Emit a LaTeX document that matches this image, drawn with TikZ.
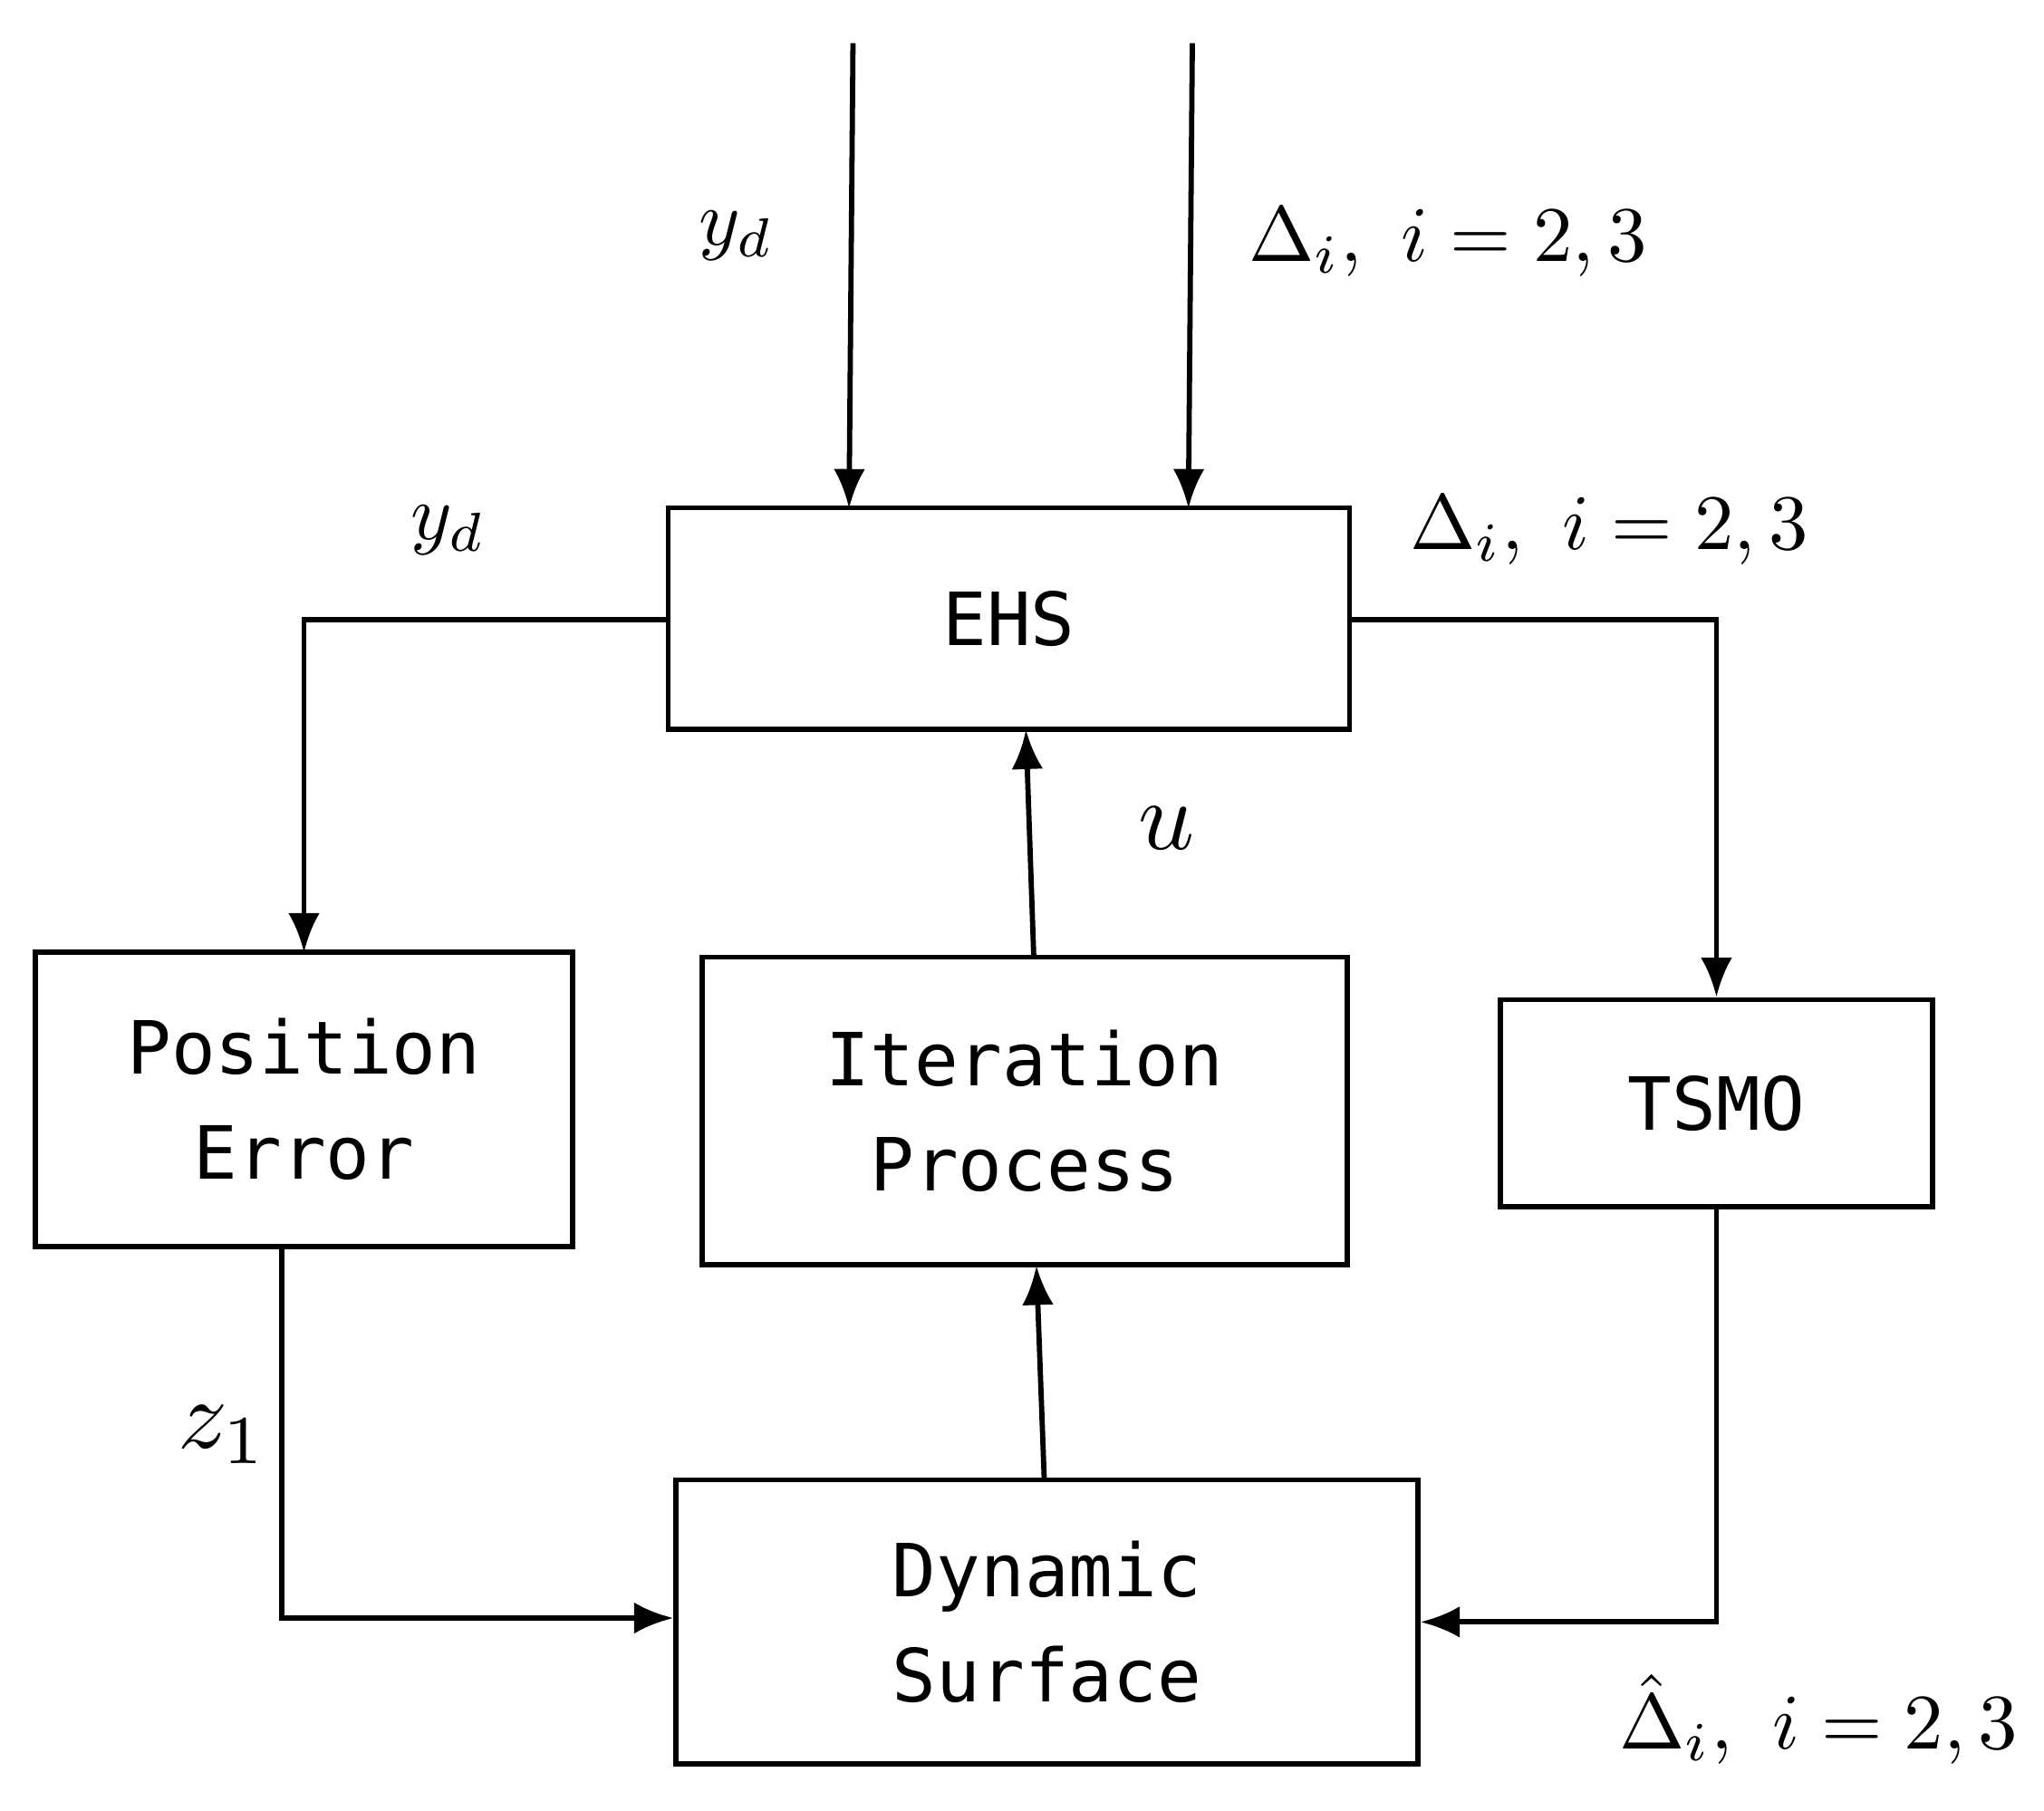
\documentclass[tikz,border=0pt]{standalone}
\usepackage{fontspec}
\usepackage{graphicx}
\setmonofont{DejaVu Sans Mono}
\usetikzlibrary{arrows.meta}
\begin{document}
\begin{tikzpicture}[x=1pt,y=-1pt,
  box/.style={draw,line width=4pt,inner sep=0pt,font=\fontsize{56}{80}\selectfont\ttfamily,align=center},
  ln/.style={line width=4pt},
  ar/.style={ln,-{Latex[length=30pt,width=24pt]}},
  lab/.style={inner sep=0pt}]
\useasboundingbox (0,0) rectangle (1560,1382);
\node[box,minimum width=520pt,minimum height=169pt] (ehs) at (770,472) {EHS};
\node[box,minimum width=410pt,minimum height=225pt] (pe) at (232,839) {Position\\Error};
\node[box,minimum width=492pt,minimum height=235pt] (ip) at (782,848) {Iteration\\ Process};
\node[box,minimum width=330pt,minimum height=158pt] (ts) at (1310,842) {TSMO};
\node[box,minimum width=566pt,minimum height=217pt] (ds) at (799,1238) {Dynamic\\Surface};
\coordinate (t1) at (651,33); \coordinate (t2) at (910,33);
\draw[ar] (t1) -- (648,388);
\draw[ar] (t2) -- (907,388);
\draw[ar] (ehs.west |- 0,473) -| (232,727);
\draw[ar] (ehs.east |- 0,473) -| (ts.north);
\draw[ar] (789,731) -- (783,557);
\draw[ar] (797,1130) -- (791,966);
\draw[ar] (215,952) |- (ds.west |- 0,1235);
\draw[ar] (ts.south) |- (ds.east |- 0,1238);
\node[lab] at (562,180) {\scalebox{6}{$y_d$}};
\node[lab] at (1105,185) {\scalebox{6}{$\Delta_i,\ i=2,3$}};
\node[lab] at (342,405) {\scalebox{6}{$y_d$}};
\node[lab] at (1228,405) {\scalebox{6}{$\Delta_i,\ i=2,3$}};
\node[lab] at (890,632) {\scalebox{7.5}{$u$}};
\node[lab] at (170,1095) {\scalebox{7.5}{$z_1$}};
\node[lab] at (1388,1312) {\scalebox{6}{$\hat\Delta_i,\ i=2,3$}};
\end{tikzpicture}
\end{document}
